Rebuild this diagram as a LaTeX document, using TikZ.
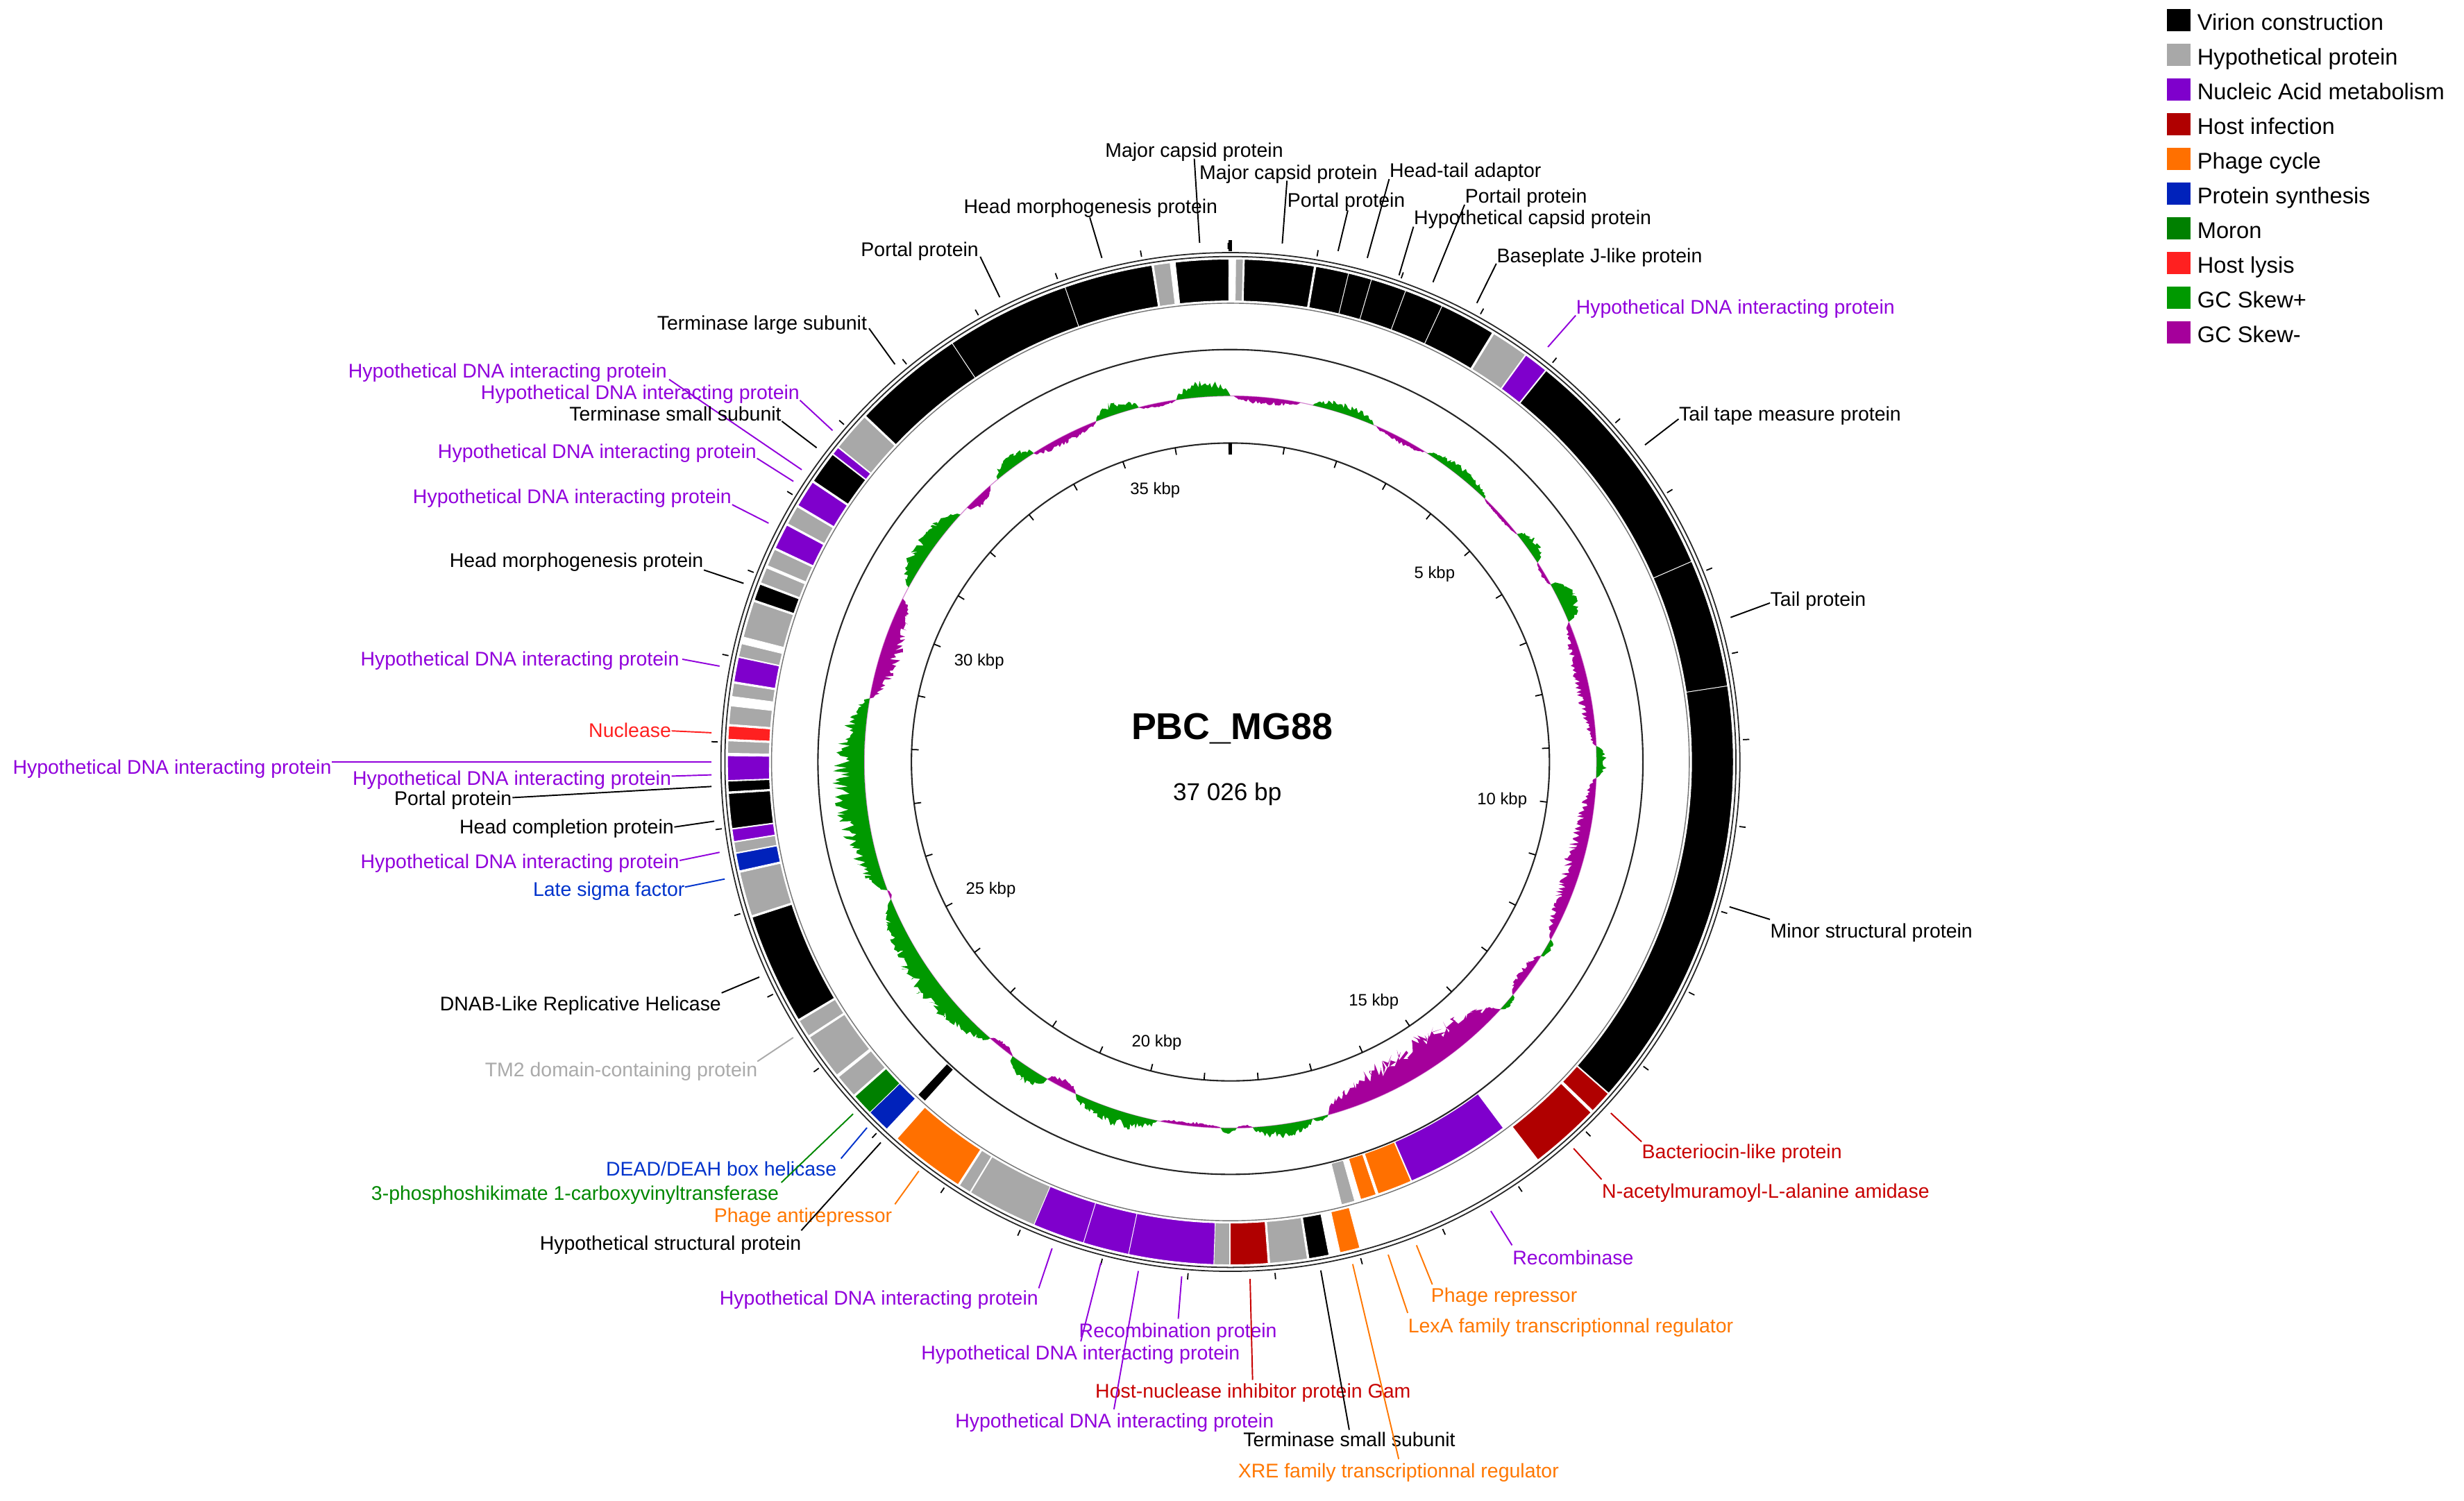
\documentclass[tikz,border=0pt]{standalone}
\usepackage{fontspec}
\setmainfont{Liberation Sans}
\definecolor{vir}{RGB}{0,0,0}
\definecolor{hyp}{RGB}{168,168,168}
\definecolor{nuc}{RGB}{127,0,204}
\definecolor{hinf}{RGB}{176,0,0}
\definecolor{pcyc}{RGB}{255,112,0}
\definecolor{psyn}{RGB}{0,34,187}
\definecolor{moron}{RGB}{0,128,0}
\definecolor{hlys}{RGB}{255,32,32}
\definecolor{skp}{RGB}{0,153,0}
\definecolor{skm}{RGB}{165,0,155}
\definecolor{lpur}{RGB}{145,0,220}
\definecolor{lred}{RGB}{200,0,0}
\definecolor{lorg}{RGB}{255,119,0}
\definecolor{lblu}{RGB}{0,51,204}
\definecolor{lgrn}{RGB}{0,136,0}
\definecolor{lgry}{RGB}{170,170,170}
% annular sector: start angle, end angle (clockwise from top), colour, inner r, outer r
\newcommand{\gfeat}[5]{%
  \fill[#3,draw=white,line width=0.25pt] ({90-#1}:#4) arc[start angle={90-#1},end angle={90-#2},radius=#4]
    -- ({90-#2}:#5) arc[start angle={90-#2},end angle={90-#1},radius=#5] -- cycle;}
\newcommand{\gfo}[3]{\gfeat{#1}{#2}{#3}{293.5}{320}}
\newcommand{\gfi}[3]{\gfeat{#1}{#2}{#3}{263.5}{290.5}}
% GC skew lobe: start, end, amplitude, colour
\newcommand{\gcs}[4]{%
  \pgfmathsetmacro{\gcsw}{#2-#1}%
  \pgfmathtruncatemacro{\gcsn}{max(5,(#2-#1)/0.25)}%
  \fill[#4] ({90-#1}:233) -- plot[domain=#1:#2,samples=\gcsn,variable=\t]
    ({90-\t}:{233+(#3)*sqrt(abs(sin(180*(\t-#1)/\gcsw)))*(0.45+0.55*rnd)})
    arc[start angle={90-#2},end angle={90-#1},radius=233] -- cycle;}
% label: name, colour, anchor, x, y, text, line end at text, line end at ring
\newcommand{\glab}[8]{%
  \node[lbl,text=#2,anchor=#3] (#1) at (#4,#5) {#6};
  \coordinate (#1t) at (#7);
  \coordinate (#1r) at (#8);
  \draw[#2,cline] (#1t) -- (#1r);}
\begin{document}
\begin{tikzpicture}[x=0.2264mm,y=0.2264mm,
  lbl/.style={font=\fontsize{8.1}{9.5}\selectfont,inner sep=0pt},
  leg/.style={font=\fontsize{9.3}{11}\selectfont,inner sep=0pt},
  tkl/.style={font=\fontsize{6.8}{8}\selectfont,inner sep=0pt},
  cline/.style={line width=0.55pt}]
\pgfmathsetseed{4242}
\useasboundingbox (-783,-470) rectangle (785,485);
\fill[white] (-783,-470) rectangle (785,485);

% ---- rings ----
\draw[line width=0.5pt,black!85] (0,0) circle[radius=321.7];
\draw[line width=0.5pt,black!85] (0,0) circle[radius=324.2];
\draw[line width=0.4pt,black!55] (0,0) circle[radius=292];
\draw[line width=0.6pt,black!85] (0,0) circle[radius=262.5];
\draw[line width=0.6pt,black!85] (0,0) circle[radius=203];

% ---- forward features ----
\gfo{0.6}{1.45}{hyp}
\gfo{1.6}{9.6}{vir}
\gfo{9.8}{13.6}{vir}
\gfo{13.6}{16.3}{vir}
\gfo{16.3}{20.4}{vir}
\gfo{20.4}{24.9}{vir}
\gfo{24.9}{31.4}{vir}
\gfo{31.6}{35.9}{hyp}
\gfo{36.0}{38.8}{nuc}
\gfo{38.9}{66.5}{vir}
\gfo{66.5}{81.3}{vir}
\gfo{81.3}{131.2}{vir}
\gfo{131.3}{133.9}{hinf}
\gfo{134.2}{142.3}{hinf}
\gfo{165.1}{167.4}{pcyc}
\gfo{168.7}{171.0}{vir}
\gfo{171.2}{175.5}{hyp}
\gfo{175.7}{180.0}{hinf}
\gfo{180.1}{181.9}{hyp}
\gfo{181.9}{191.7}{nuc}
\gfo{191.7}{197.0}{nuc}
\gfo{197.0}{203.0}{nuc}
\gfo{203.0}{211.1}{hyp}
\gfo{211.2}{212.6}{hyp}
\gfo{212.8}{221.5}{pcyc}
\gfo{223.1}{225.8}{psyn}
\gfo{225.8}{228.3}{moron}
\gfo{228.5}{231.2}{hyp}
\gfo{231.5}{236.8}{hyp}
\gfo{237.0}{239.0}{hyp}
\gfo{239.2}{252.0}{vir}
\gfo{252.2}{257.3}{hyp}
\gfo{257.5}{259.5}{psyn}
\gfo{259.6}{260.8}{hyp}
\gfo{260.9}{262.3}{nuc}
\gfo{262.4}{266.4}{vir}
\gfo{266.6}{267.8}{vir}
\gfo{267.9}{270.7}{nuc}
\gfo{271.0}{272.4}{hyp}
\gfo{272.6}{274.1}{hlys}
\gfo{274.3}{276.4}{hyp}
\gfo{277.5}{279.0}{hyp}
\gfo{279.2}{282.0}{nuc}
\gfo{282.1}{283.6}{hyp}
\gfo{284.4}{288.6}{hyp}
\gfo{288.8}{290.7}{vir}
\gfo{290.9}{292.7}{hyp}
\gfo{293.0}{295.0}{hyp}
\gfo{295.2}{298.1}{nuc}
\gfo{298.3}{300.5}{hyp}
\gfo{300.7}{303.8}{nuc}
\gfo{304.0}{307.7}{vir}
\gfo{307.8}{308.7}{nuc}
\gfo{308.8}{313.3}{hyp}
\gfo{313.5}{326.4}{vir}
\gfo{326.4}{340.8}{vir}
\gfo{340.8}{351.0}{vir}
\gfo{351.2}{353.1}{hyp}
\gfo{353.7}{359.8}{vir}
% ---- reverse features ----
\gfi{143.3}{156.6}{nuc}
\gfi{156.7}{161.1}{pcyc}
\gfi{161.4}{163.4}{pcyc}
\gfi{164.2}{165.9}{hyp}
\gfi{222.0}{223.2}{vir}

% ---- ticks ----
\foreach \k in {1,...,37}{
  \draw[line width=0.5pt] ({90-\k*9.72289}:326.5) -- ({90-\k*9.72289}:330.5);
  \draw[line width=0.5pt] ({90-\k*9.72289}:203) -- ({90-\k*9.72289}:198.5);
}
\draw[line width=1.3pt] (90:325) -- (90:332);
\draw[line width=1.3pt] (90:203) -- (90:195.5);
\node[tkl] (k5)  at (129.9,119.5) {5 kbp};
\node[tkl] (k10) at (172.9,-24.2) {10 kbp};
\node[tkl] (k15) at (91.2,-152.3) {15 kbp};
\node[tkl] (k20) at (-46.9,-178.7) {20 kbp};
\node[tkl] (k25) at (-152.5,-81.3) {25 kbp};
\node[tkl] (k30) at (-159.9,64.1) {30 kbp};
\node[tkl] (k35) at (-47.9,172.9) {35 kbp};

% ---- GC skew ----
\draw[skm!45,line width=0.35pt] (0,0) circle[radius=233];
\gcs{0.5}{11}{-5}{skm}
\gcs{13}{23}{7}{skp}
\gcs{23.5}{32}{-4}{skm}
\gcs{32.5}{44}{7}{skp}
\gcs{44}{51.5}{-2.5}{skm}
\gcs{51.5}{57}{9}{skp}
\gcs{57}{61}{-3}{skm}
\gcs{61}{67.5}{14}{skp}
\gcs{67.5}{87.5}{-9}{skm}
\gcs{87.5}{92.5}{7}{skp}
\gcs{92.5}{119}{-12}{skm}
\gcs{119}{122}{5}{skp}
\gcs{122}{129.5}{-7}{skm}
\gcs{129.5}{132.5}{4}{skp}
\gcs{132.5}{164.5}{-24}{skm}
\gcs{164.5}{167}{3}{skp}
\gcs{167}{176.5}{9}{skp}
\gcs{176.5}{179}{-2}{skm}
\gcs{179}{181.5}{4}{skp}
\gcs{181.5}{191}{-3}{skm}
\gcs{191.5}{205}{11}{skp}
\gcs{205}{210}{-6}{skm}
\gcs{210}{216.5}{11}{skp}
\gcs{216.5}{221}{-4}{skm}
\gcs{221}{248}{16}{skp}
\gcs{248}{249.5}{-2}{skm}
\gcs{249.5}{280}{21}{skp}
\gcs{280}{296.5}{-14}{skm}
\gcs{298.5}{312.5}{13}{skp}
\gcs{314}{319}{-7}{skm}
\gcs{320.5}{327.5}{9}{skp}
\gcs{327.5}{338.5}{-6}{skm}
\gcs{338.5}{345.5}{9}{skp}
\gcs{345.5}{351.5}{-3}{skm}
\gcs{351.5}{360}{11}{skp}

% ---- centre ----
\node[font=\bfseries\fontsize{15.3}{18}\selectfont,inner sep=0pt,anchor=base] (title) at (1,14.5) {PBC\_MG88};
\node[font=\fontsize{10}{12}\selectfont,inner sep=0pt,anchor=base] (size) at (-2,-24.5) {37 026 bp};

% ---- labels ----
\glab{mcpa}{black}{base west}{-80}{385}{Major capsid protein}{-23,384}{-19.6,330.4}
\glab{mcpb}{black}{base west}{-20}{371}{Major capsid protein}{36,370}{33,330}
\glab{hta}{black}{base west}{101}{372}{Head-tail adaptor}{101,371}{87.1,320.8}
\glab{pora}{black}{base west}{36}{353}{Portal protein}{74.7,351}{68.5,325.2}
\glab{porl}{black}{base west}{149}{356}{Portail protein}{149,354.7}{128.9,305.4}
\glab{hcp}{black}{base west}{116.5}{342}{Hypothetical capsid protein}{116.5,340.7}{107.3,309.8}
\glab{bpj}{black}{base west}{169.2}{318}{Baseplate J-like protein}{169.2,317.2}{156.8,292.1}
\glab{hmpa}{black}{base west}{-170}{349}{Head morphogenesis protein}{-89.5,346.6}{-81.8,320.8}
\glab{porb}{black}{base east}{-160}{322}{Portal protein}{-159.2,321.6}{-146.8,295.8}
\glab{tls}{black}{base east}{-231}{275}{Terminase large subunit}{-230,276}{-213.5,253.1}
\glab{hda}{lpur}{base east}{-358.3}{244.3}{Hypothetical DNA interacting protein}{-357.2,243.5}{-272.8,186}
\glab{hdb}{lpur}{base east}{-273.9}{231}{Hypothetical DNA interacting protein}{-273.9,230.2}{-253.2,211}
\glab{tssa}{black}{base east}{-285.5}{217}{Terminase small subunit}{-285.5,216.9}{-263.3,200}
\glab{hdc}{lpur}{base east}{-301.3}{193.3}{Hypothetical DNA interacting protein}{-301.3,193.3}{-278.1,178.6}
\glab{hdd}{lpur}{base east}{-317.2}{164.6}{Hypothetical DNA interacting protein}{-317.1,163.8}{-293.9,152}
\glab{hmpb}{black}{base east}{-335.1}{124}{Head morphogenesis protein}{-335.1,122.2}{-309.8,113.7}
\glab{hde}{lpur}{base east}{-350.5}{61}{Hypothetical DNA interacting protein}{-348.8,65.4}{-325.1,61}
\glab{nucl}{hlys}{base east}{-355.6}{15.6}{Nuclease}{-355.6,19.8}{-330.2,18.6}
\glab{hdf}{lpur}{base east}{-571.8}{-7.5}{Hypothetical DNA interacting protein}{-571.8,-0.1}{-330.2,-0.1}
\glab{hdg}{lpur}{base east}{-355.6}{-14.9}{Hypothetical DNA interacting protein}{-355.6,-9}{-330.2,-8.2}
\glab{porc}{black}{base east}{-457}{-27.4}{Portal protein}{-456.9,-22.7}{-330.2,-15.6}
\glab{hcomp}{black}{base east}{-353.9}{-45.8}{Head completion protein}{-353.9,-41.4}{-328.5,-37.7}
\glab{hdh}{lpur}{base east}{-350.5}{-67.9}{Hypothetical DNA interacting protein}{-350.5,-62.7}{-325.1,-57.5}
\glab{lsf}{lblu}{base east}{-347}{-85.5}{Late sigma factor}{-347.1,-79.6}{-321.8,-74.5}
\glab{dnab}{black}{base east}{-323.8}{-158.2}{DNAB-Like Replicative Helicase}{-323.8,-147}{-299.8,-136.9}
\glab{tmtwo}{lgry}{base east}{-300.7}{-200.1}{TM2 domain-containing protein}{-301,-190.6}{-278.2,-175.4}
\glab{dead}{lblu}{base east}{-250.3}{-263.3}{DEAD/DEAH box helicase}{-247.8,-252.4}{-231.3,-232.8}
\glab{pho}{lgrn}{base east}{-287.1}{-278.9}{3-phosphoshikimate 1-carboxyvinyltransferase}{-285.8,-267.7}{-240.1,-224}
\glab{pan}{lorg}{base east}{-215}{-293.1}{Phage antirepressor}{-213.5,-281.5}{-198.3,-260.4}
\glab{hsp}{black}{base east}{-272.8}{-310.5}{Hypothetical structural protein}{-273.1,-298.2}{-222.5,-242.2}
\glab{hba}{lpur}{base east}{-122}{-345.4}{Hypothetical DNA interacting protein}{-122,-335}{-113.5,-309.6}
\glab{recp}{lpur}{base west}{-96.6}{-366.3}{Recombination protein}{-33.2,-354.4}{-31,-327.4}
\glab{hbb}{lpur}{base west}{-197}{-380.3}{Hypothetical DNA interacting protein}{-95.2,-368.8}{-82.5,-318.9}
\glab{gam}{lred}{base east}{115}{-404.6}{Host-nuclease inhibitor protein Gam}{14.1,-393.3}{12.5,-329}
\glab{hbc}{lpur}{base west}{-175.4}{-423.8}{Hypothetical DNA interacting protein}{-74.1,-412}{-58.6,-324}
\glab{tssb}{black}{base west}{7.9}{-435.7}{Terminase small subunit}{75.6,-425.1}{57.5,-323.6}
\glab{xre}{lorg}{base west}{4.6}{-455.7}{XRE family transcriptionnal regulator}{107.1,-443.7}{77.8,-319.6}
\glab{lexa}{lorg}{base west}{112.8}{-363.2}{LexA family transcriptionnal regulator}{112.8,-350.7}{100.4,-313.6}
\glab{prep}{lorg}{base west}{127.4}{-344}{Phage repressor}{128.5,-332.6}{118.4,-307.6}
\glab{rcb}{lpur}{base west}{179.3}{-320}{Recombinase}{179.2,-307.6}{165.7,-285.8}
\glab{nacm}{lred}{base west}{236.2}{-277.4}{N-acetylmuramoyl-L-alanine amidase}{236.2,-265.7}{218.4,-246}
\glab{bac}{lred}{base west}{261.6}{-252.2}{Bacteriocin-like protein}{261.6,-241.7}{242.1,-223.5}
\glab{hdr}{lpur}{base west}{219.7}{285}{Hypothetical DNA interacting protein}{219.7,284.2}{202,264.1}
\glab{ttm}{black}{base west}{285.2}{217}{Tail tape measure protein}{285.2,218.3}{263.8,201.8}
\glab{tail}{black}{base west}{343.3}{99}{Tail protein}{343.3,101.2}{318.3,92}
\glab{msp}{black}{base west}{343.3}{-112}{Minor structural protein}{343.3,-100.2}{317.6,-92.2}

% ---- legend ----
\foreach \c/\t [count=\i from 0] in {vir/Virion construction,hyp/Hypothetical protein,nuc/Nucleic Acid metabolism,hinf/Host infection,pcyc/Phage cycle,psyn/Protein synthesis,moron/Moron,hlys/Host lysis,skp/GC Skew+,skm/GC Skew-}{
  \fill[\c] (596,{479.1-22.08*\i}) rectangle (611,{465.1-22.08*\i});
  \node[leg,anchor=base west] (leg\i) at (615,{465.9-22.08*\i}) {\t};
}
\end{tikzpicture}
\end{document}
